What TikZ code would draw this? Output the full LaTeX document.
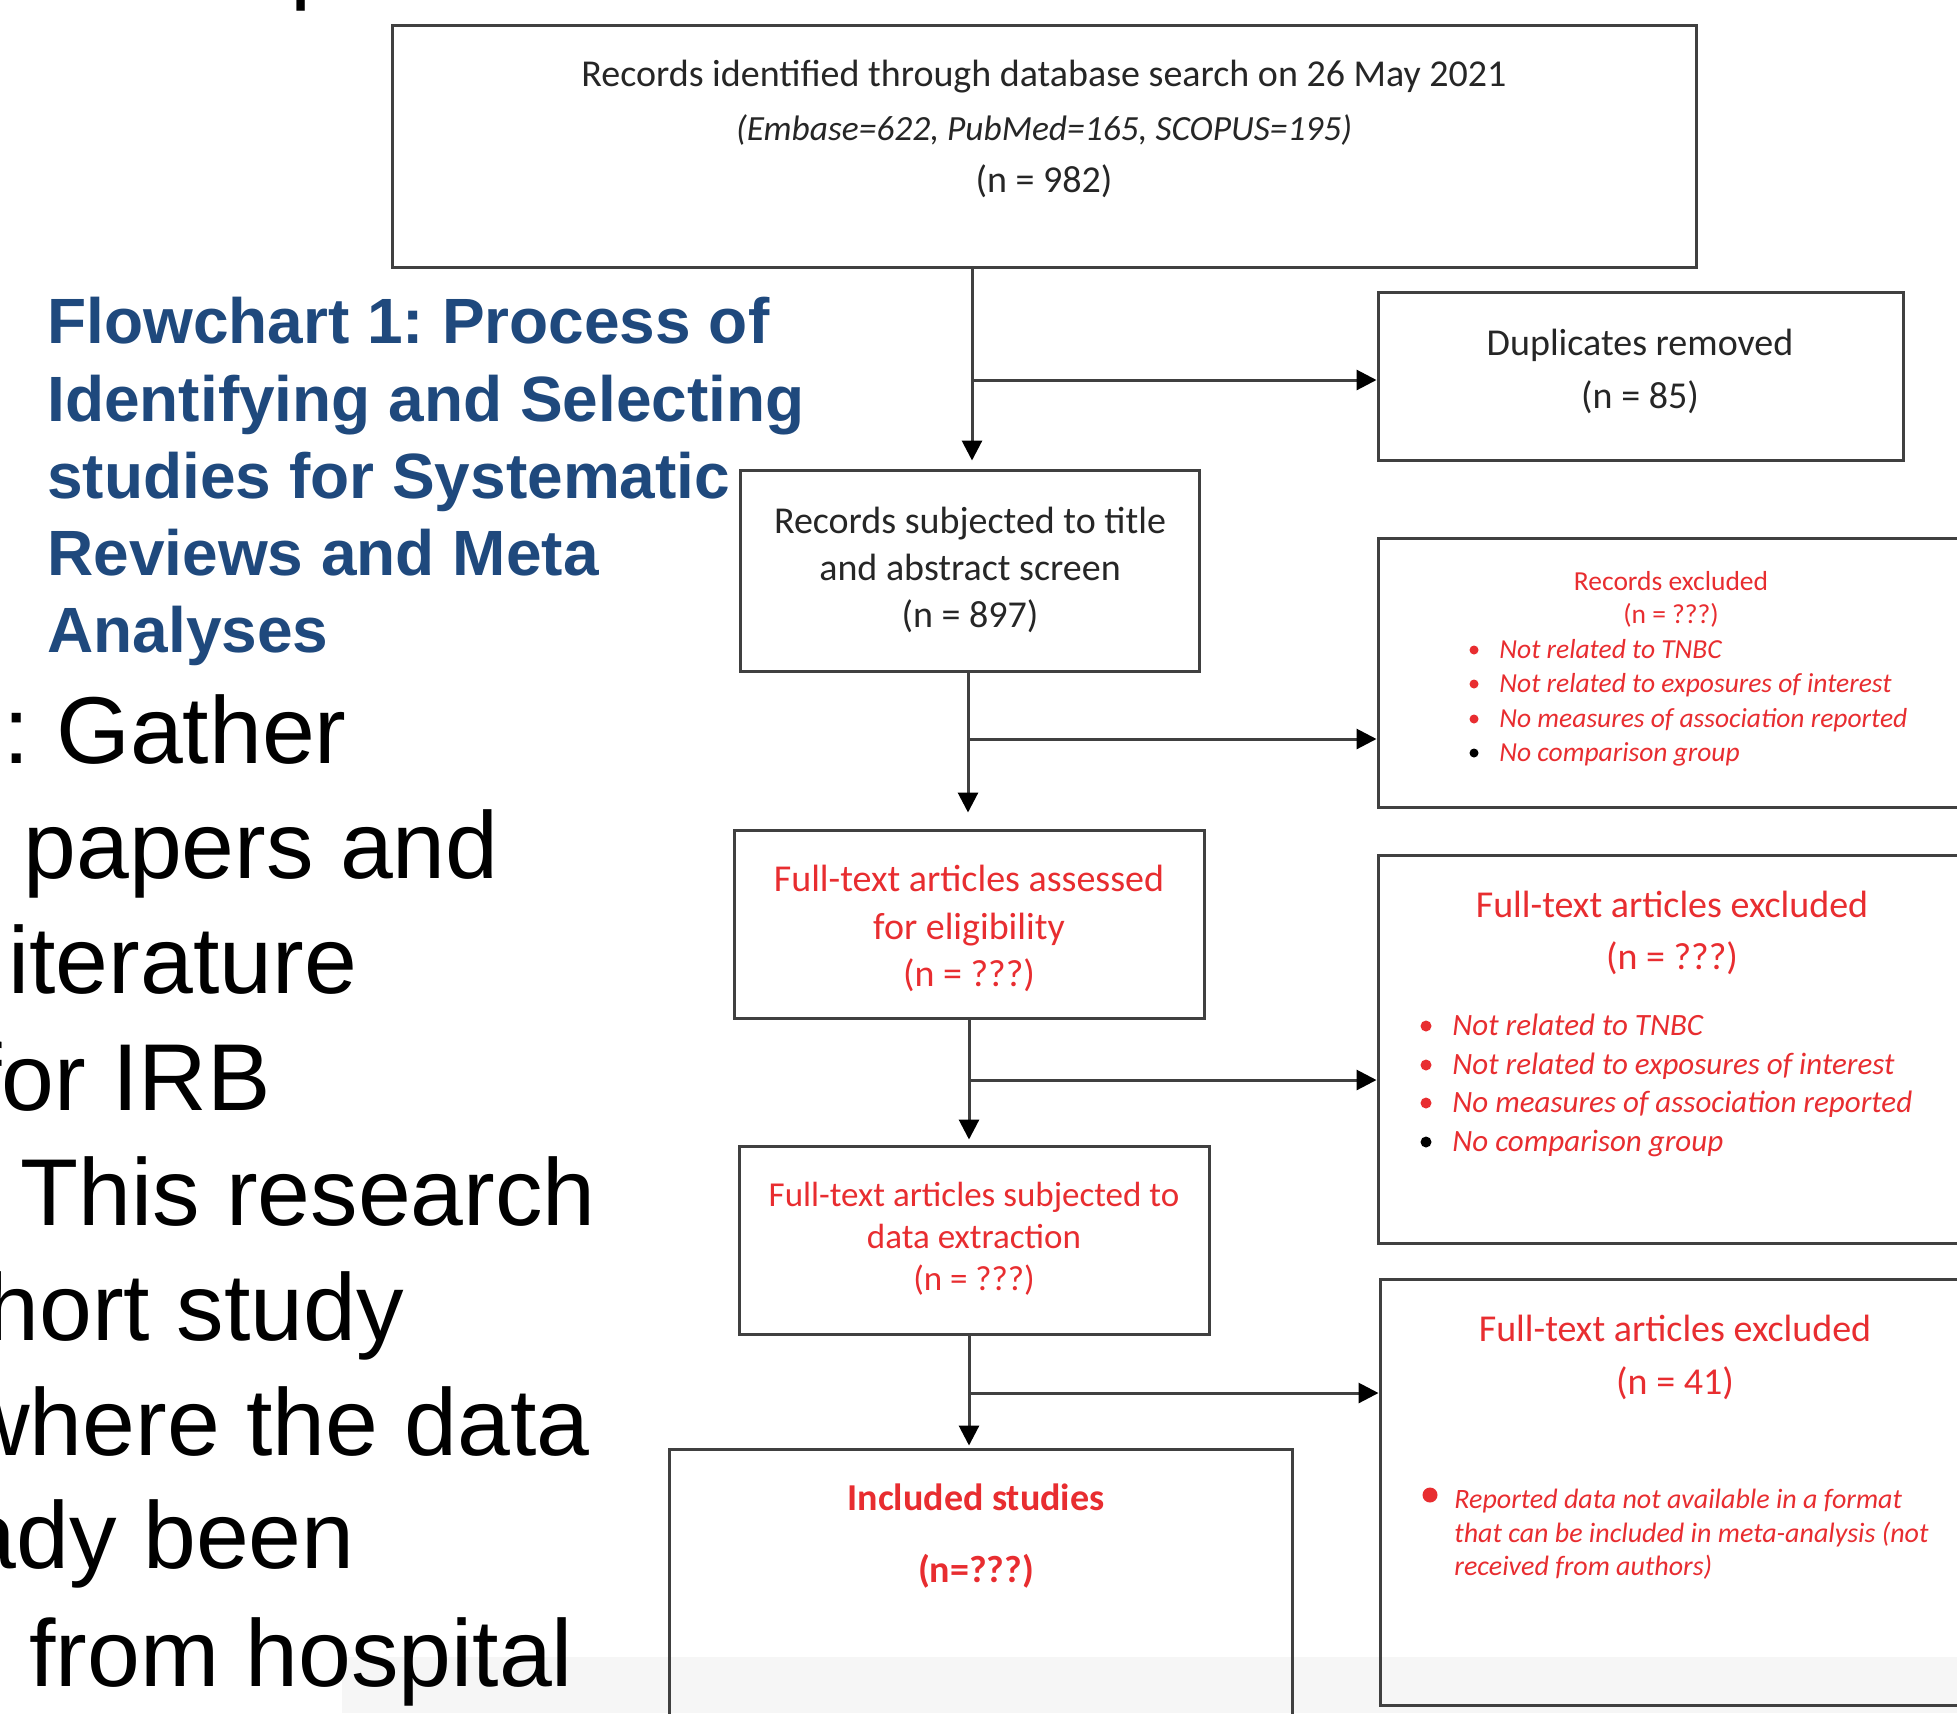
\documentclass[tikz,border=0pt]{standalone}
\usepackage{fontspec}
\setmainfont{Carlito}
\newfontfamily\arialf{Liberation Sans}
\usetikzlibrary{arrows.meta,fit}
\frenchspacing
\definecolor{boxred}{RGB}{232,45,48}
\definecolor{titleblue}{RGB}{31,73,125}
\definecolor{linegrey}{RGB}{64,64,64}
\definecolor{txtgrey}{RGB}{38,38,38}
\definecolor{bandgrey}{RGB}{246,246,246}
\begin{document}
\begin{tikzpicture}[x=0.5pt,y=-0.5pt,
  box/.style={draw=linegrey,line width=1.5pt,inner sep=0pt},
  conn/.style={draw=linegrey,line width=1.5pt,-{Triangle[length=10pt,width=10pt,color=black]}},
  gt/.style={anchor=base,inner sep=0pt,text=txtgrey,font=\fontsize{19}{23}\selectfont},
  rt/.style={anchor=base,inner sep=0pt,text=boxred,font=\fontsize{19}{23}\selectfont},
  bulA/.style={anchor=base west,inner sep=0pt,text=boxred,font=\fontsize{13.75}{17}\selectfont\itshape},
  bulB/.style={anchor=base west,inner sep=0pt,text=boxred,font=\fontsize{15.5}{19}\selectfont\itshape},
  bulC/.style={anchor=base west,inner sep=0pt,text=boxred,font=\fontsize{14}{17}\selectfont\itshape},
  dotA/.style={circle,fill=boxred,inner sep=0pt,minimum size=4.5pt},
  dotB/.style={circle,fill=boxred,inner sep=0pt,minimum size=5.5pt},
  bigt/.style={anchor=base west,inner sep=0pt,text=black,font=\arialf\fontsize{47.5}{57}\selectfont},
  ttl/.style={anchor=base west,inner sep=0pt,text=titleblue,font=\arialf\bfseries\fontsize{32}{38}\selectfont}]
\useasboundingbox (0,0) rectangle (1957,1713);
\fill[white] (0,0) rectangle (1957,1713);
\clip (0,0) rectangle (1957,1713);
% light band at the bottom
\fill[bandgrey] (342,1657) rectangle (1957,1713);

% left slide text
\node[bigt] (pfrag) at (290,-9) {p};
\node[ttl] (h1) at (47,343) {Flowchart 1: Process of};
\node[ttl] (h2) at (47,421) {Identifying and Selecting};
\node[ttl] (h3) at (47,498) {studies for Systematic};
\node[ttl] (h4) at (47,575) {Reviews and Meta};
\node[ttl] (h5) at (47,652) {Analyses};
\node[bigt] (b1) at (3,763) {: Gather};
\node[bigt] (b2) at (23,878) {papers and};
\node[bigt] (b3) at (8,993) {iterature};
\node[bigt] (b4) at (-25,1110) {for IRB};
\node[bigt] (b5) at (20,1225) {This research};
\node[bigt] (b6) at (-114,1340) {cohort study};
\node[bigt] (b7) at (-39,1455) {where the data};
\node[bigt] (b8) at (-195,1568) {already been};
\node[bigt] (b9) at (29,1686) {from hospital};

% boxes
\node[box,fit={(392,25) (1696,267)}] (top) {};
\node[box,fit={(1378,292) (1903,460)}] (dup) {};
\node[box,fit={(740,470) (1199,671)}] (scr) {};
\node[box,fit={(1378,538) (1995,807)}] (exA) {};
\node[box,fit={(734,830) (1204,1018)}] (elig) {};
\node[box,fit={(1378,855) (1995,1243)}] (exB) {};
\node[box,fit={(739,1146) (1209,1334)}] (extr) {};
\node[box,fit={(1380,1279) (1995,1705)}] (exC) {};
\node[box,fit={(669,1449) (1292,1740)}] (incl) {};

% texts in boxes
\node[gt] (t1) at (1044,86) {Records identified through database search on 26 May 2021};
\node[gt,font=\fontsize{17.7}{22}\selectfont\itshape] (t2) at (1044,140) {(Embase=622, PubMed=165, SCOPUS=195)};
\node[gt] (t3) at (1044,192) {(n = 982)};
\node[gt] (d1) at (1640,355) {Duplicates removed};
\node[gt] (d2) at (1640,408) {(n = 85)};
\node[gt] (s1) at (970,533) {Records subjected to title};
\node[gt] (s2) at (970,580) {and abstract screen};
\node[gt] (s3) at (970,627) {(n = 897)};
\node[rt] (e1) at (969,891) {Full-text articles assessed};
\node[rt] (e2) at (969,939) {for eligibility};
\node[rt] (e3) at (969,986) {(n = ???)};
\node[rt,font=\fontsize{17.5}{21}\selectfont] (x1) at (974,1206) {Full-text articles subjected to};
\node[rt,font=\fontsize{17.5}{21}\selectfont] (x2) at (974,1248) {data extraction};
\node[rt,font=\fontsize{17.5}{21}\selectfont] (x3) at (974,1290) {(n = ???)};
\node[rt,font=\fontsize{19}{23}\selectfont\bfseries] (i1) at (976,1510) {Included studies};
\node[rt,font=\fontsize{19}{23}\selectfont\bfseries] (i2) at (976,1582) {(n=???)};

\node[rt,font=\fontsize{13.75}{17}\selectfont] (ra1) at (1671,590) {Records excluded};
\node[rt,font=\fontsize{13.75}{17}\selectfont] (ra2) at (1671,623) {(n = ???)};
\node[dotA] (da1) at (1474,650) {};
\node[dotA] (da2) at (1474,684) {};
\node[dotA] (da3) at (1474,719) {};
\node[dotA,fill=black] (da4) at (1474,753) {};
\node[bulA] (la1) at (1499,658) {Not related to TNBC};
\node[bulA] (la2) at (1499,692) {Not related to exposures of interest};
\node[bulA] (la3) at (1499,727) {No measures of association reported};
\node[bulA] (la4) at (1499,761) {No comparison group};

\node[rt] (rb1) at (1672,917) {Full-text articles excluded};
\node[rt] (rb2) at (1672,969) {(n = ???)};
\node[dotB] (db1) at (1426,1026) {};
\node[dotB] (db2) at (1426,1065) {};
\node[dotB] (db3) at (1426,1103) {};
\node[dotB,fill=black] (db4) at (1426,1142) {};
\node[bulB] (lb1) at (1452,1035) {Not related to TNBC};
\node[bulB] (lb2) at (1452,1074) {Not related to exposures of interest};
\node[bulB] (lb3) at (1452,1112) {No measures of association reported};
\node[bulB] (lb4) at (1452,1151) {No comparison group};

\node[rt] (rc1) at (1675,1341) {Full-text articles excluded};
\node[rt] (rc2) at (1675,1394) {(n = 41)};
\node[circle,fill=boxred,inner sep=0pt,minimum size=7.5pt] (dc1) at (1430,1495) {};
\node[bulC] (lc1) at (1454,1508) {Reported data not available in a format};
\node[bulC] (lc2) at (1454,1542) {that can be included in meta-analysis (not};
\node[bulC] (lc3) at (1454,1575) {received from authors)};

% connectors
\coordinate (j1) at (972,380);
\coordinate (j2) at (968,739);
\coordinate (j3) at (969,1080);
\coordinate (j4) at (969,1393);
\draw[conn,shorten >=4pt] (top.south -| j1) -- (scr.north -| j1);
\draw[conn] (j1) -- (dup.west |- j1);
\draw[conn,shorten >=8pt] (scr.south -| j2) -- (elig.north -| j2);
\draw[conn] (j2) -- (exA.west |- j2);
\draw[conn,shorten >=2.5pt] (elig.south -| j3) -- (extr.north -| j3);
\draw[conn] (j3) -- (exB.west |- j3);
\draw[conn,shorten >=1pt] (extr.south -| j4) -- (incl.north -| j4);
\draw[conn] (j4) -- (exC.west |- j4);
\end{tikzpicture}
\end{document}
